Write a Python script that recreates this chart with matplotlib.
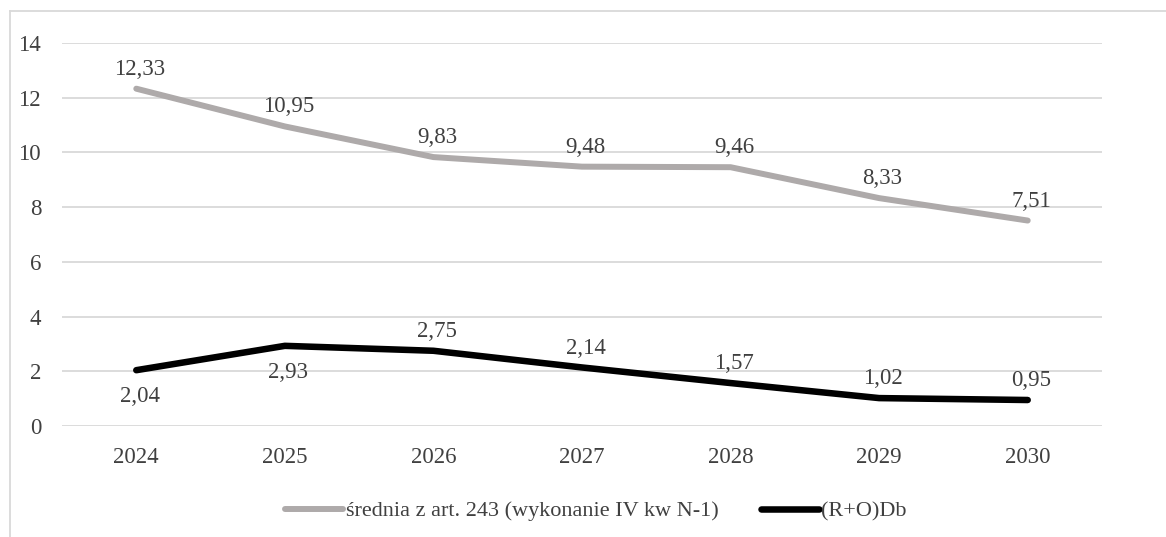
import matplotlib
matplotlib.use("Agg")
import matplotlib.pyplot as plt
from matplotlib.lines import Line2D

plt.rcParams["font.family"] = ["Liberation Serif", "DejaVu Serif"]

years = ["2024", "2025", "2026", "2027", "2028", "2029", "2030"]
srednia = [12.33, 10.95, 9.83, 9.48, 9.46, 8.33, 7.51]
rodb = [2.04, 2.93, 2.75, 2.14, 1.57, 1.02, 0.95]
rodb_below = [True, True, False, False, False, False, False]

name1 = "średnia z art. 243 (wykonanie IV kw N-1)"
name2 = "(R+O)Db"
grey = "#aeaaaa"
txt = "#404040"
fs = 16.5

W, H = 1166, 537
fig = plt.figure(figsize=(W / 100, H / 100), dpi=100)
ax = fig.add_axes([62 / W, 1 - 426 / H, 1040 / W, 383 / H])

x = list(range(len(years)))
ax.plot(x, srednia, color=grey, lw=4.3, solid_capstyle="round",
        solid_joinstyle="round", label=name1, zorder=3)
ax.plot(x, rodb, color="black", lw=4.7, solid_capstyle="round",
        solid_joinstyle="round", label=name2, zorder=3)

def lab(v):
    return f"{v:.2f}".replace(".", ",")

for i, v in enumerate(srednia):
    ax.annotate(lab(v), (i, v), xytext=(2.5, 14), textcoords="offset points",
                ha="center", va="center", fontsize=fs, color=txt, zorder=4)
for i, v in enumerate(rodb):
    off = -19 if rodb_below[i] else 14
    ax.annotate(lab(v), (i, v), xytext=(2.5, off), textcoords="offset points",
                ha="center", va="center", fontsize=fs, color=txt, zorder=4)

ax.set_xlim(-0.5, len(years) - 0.5)
ax.set_ylim(0, 14)
ax.set_yticks(range(0, 15, 2))
ax.set_xticks(x)
ax.set_xticklabels(years)
ax.grid(axis="y", color="#d9d9d9", lw=1.3)
ax.set_axisbelow(True)
for s in ax.spines.values():
    s.set_visible(False)
ax.tick_params(length=0, labelsize=fs, labelcolor=txt)
ax.tick_params(axis="x", pad=15)
ax.tick_params(axis="y", pad=15)

fig.legend(loc="center", bbox_to_anchor=(596 / W, 1 - 511 / H), ncol=2,
           frameon=False, fontsize=16, handlelength=2.6, handletextpad=0.12,
           columnspacing=1.9, labelcolor=txt, borderpad=0, borderaxespad=0)

# chart area border (only left and top visible)
fig.add_artist(Line2D([9.5 / W, 9.5 / W], [0, 1 - 10.5 / H], color="#d9d9d9",
                      lw=1.3, transform=fig.transFigure))
fig.add_artist(Line2D([9.5 / W, 1], [1 - 10.5 / H, 1 - 10.5 / H],
                      color="#d9d9d9", lw=1.3, transform=fig.transFigure))

fig.savefig("out.png", dpi=100)
